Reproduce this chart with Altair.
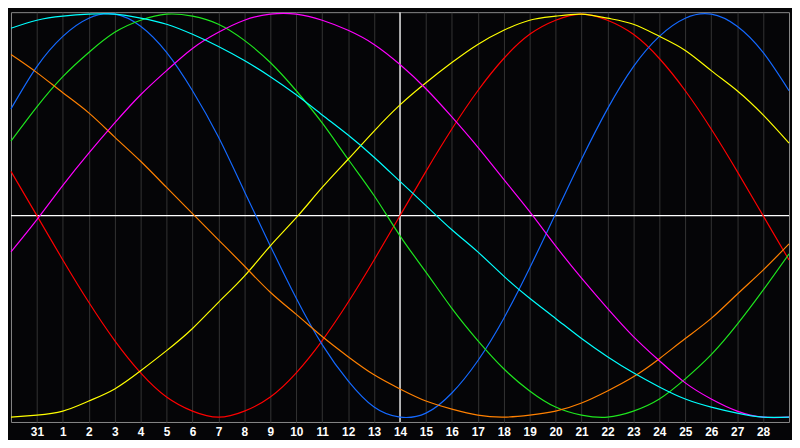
import altair as alt
import pandas as pd

# day index 0..30 across the chart; labels shown for indices 1..29
tick_labels = ["31", "1", "2", "3", "4", "5", "6", "7", "8", "9", "10", "11", "12", "13",
               "14", "15", "16", "17", "18", "19", "20", "21", "22", "23", "24", "25", "26", "27", "28"]

red = [22, 0, -22, -43, -62, -78, -90, -97, -100, -97, -90, -78, -62, -43, -22, 0,
       22, 43, 62, 78, 90, 97, 100, 97, 90, 78, 62, 43, 22, 0, -22]
blue = [53, 74, 89, 98, 100, 94, 81, 62, 39, 12, -15, -41, -64, -82, -95, -100,
        -98, -88, -72, -51, -26, 1, 28, 53, 74, 89, 98, 100, 94, 81, 62]
green = [37, 54, 69, 81, 91, 97, 100, 99, 95, 87, 76, 62, 46, 28, 10, -10,
         -28, -46, -62, -76, -87, -95, -99, -100, -97, -91, -81, -69, -54, -37, -19]
yellow = [-100, -99, -97, -92, -86, -77, -67, -56, -43, -30, -15, -1, 14, 28, 42, 55,
          66, 76, 85, 92, 97, 99, 100, 98, 95, 89, 82, 72, 62, 50, 36]
orange = [80, 71, 61, 51, 39, 27, 14, 1, -12, -25, -38, -49, -60, -70, -79, -86,
          -92, -96, -99, -100, -99, -97, -93, -87, -80, -71, -61, -51, -39, -27, -14]
magenta = [-18, -2, 15, 31, 46, 60, 72, 83, 91, 97, 100, 100, 97, 92, 85, 75,
           63, 49, 34, 18, 2, -15, -31, -46, -60, -72, -83, -91, -97, -100, -100]
cyan = [93, 97, 99, 100, 100, 98, 95, 90, 84, 77, 69, 60, 50, 40, 29, 17,
        5, -7, -18, -30, -41, -51, -61, -70, -78, -85, -91, -95, -98, -100, -100]

series_names = ["red", "blue", "green", "yellow", "orange", "magenta", "cyan"]
series_values = [red, blue, green, yellow, orange, magenta, cyan]
series_colors = ["#ff0000", "#1469ff", "#1ee61e", "#ffff00", "#ff8000", "#ff00ff", "#00ffff"]

rows = []
for name, vals in zip(series_names, series_values):
    for i, v in enumerate(vals):
        rows.append({"i": i, "v": v, "s": name})
df = pd.DataFrame(rows)

label_expr = "[" + ",".join("'" + t + "'" for t in tick_labels) + "][datum.value - 1]"

x_scale = alt.Scale(domain=[0, 30], nice=False, zero=False)
y_scale = alt.Scale(domain=[-102.4, 101], nice=False, zero=False)

x_axis = alt.Axis(
    values=list(range(1, 30)),
    labelExpr=label_expr,
    grid=True,
    gridColor="#343434",
    gridWidth=1,
    gridOpacity=1,
    ticks=False,
    domain=False,
    labelColor="#ffffff",
    labelFont="Liberation Sans",
    labelFontWeight="bold",
    labelFontSize=12,
    labelPadding=5,
    labelAngle=0,
    labelOverlap=False,
    title=None,
)

lines = alt.Chart(df).mark_line(strokeWidth=1.2, interpolate="natural").encode(
    x=alt.X("i:Q", scale=x_scale, axis=x_axis),
    y=alt.Y("v:Q", scale=y_scale, axis=None),
    color=alt.Color("s:N", scale=alt.Scale(domain=series_names, range=series_colors), legend=None),
)

center_x = [15]
center_y = [0]

vrule = alt.Chart(pd.DataFrame({"i": center_x})).mark_rule(color="#ffffff", strokeWidth=1.3).encode(
    x=alt.X("i:Q", scale=x_scale, axis=x_axis)
)
hrule = alt.Chart(pd.DataFrame({"v": center_y})).mark_rule(color="#ffffff", strokeWidth=1.3).encode(
    y=alt.Y("v:Q", scale=y_scale, axis=None)
)

chart = alt.layer(vrule, hrule, lines).properties(
    width=792,
    height=432,
    background="#050507",
    padding=0,
    autosize=alt.AutoSizeParams(type="fit", contains="padding"),
).configure_view(
    stroke="#8a8a8a",
    strokeWidth=1,
    fill="#050507",
)

chart.save("out.html", embed_options={"renderer": "svg", "actions": False})
